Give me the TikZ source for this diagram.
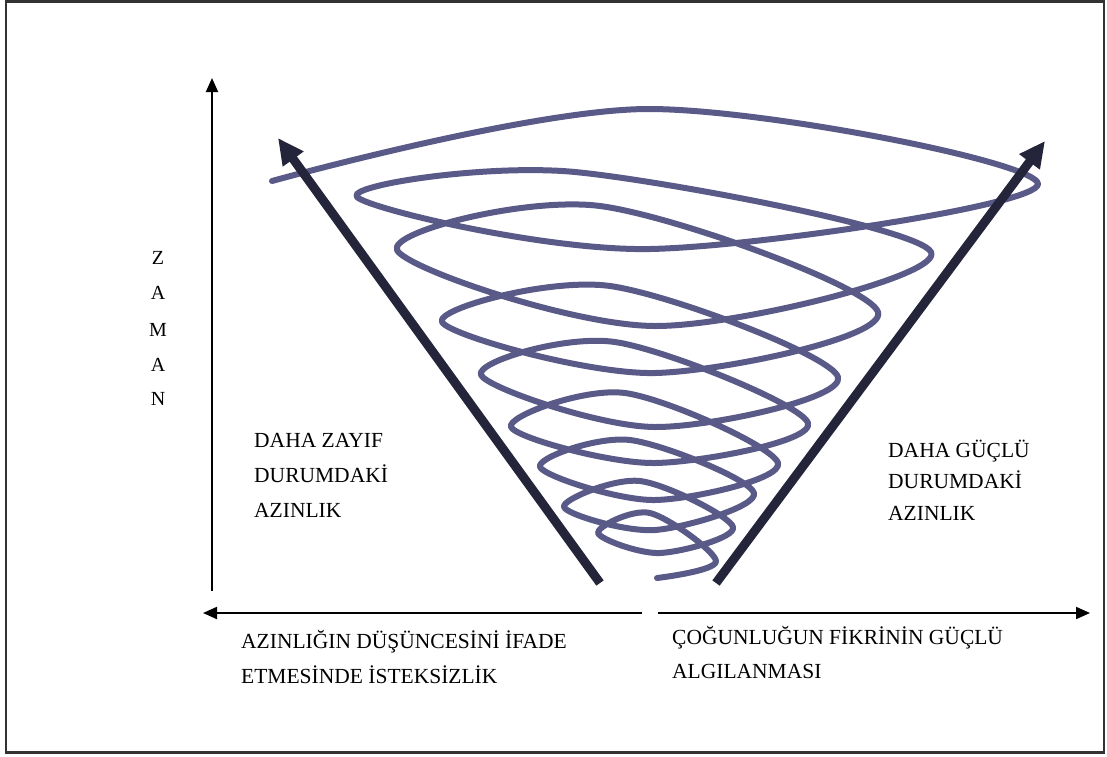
\documentclass[tikz,border=0pt]{standalone}
\usepackage{fontspec}
\setmainfont{Liberation Serif}
\usetikzlibrary{arrows.meta}
\definecolor{spiralc}{HTML}{5A5A88}
\definecolor{conec}{HTML}{24243A}
\definecolor{framec}{HTML}{333333}
\begin{document}
\begin{tikzpicture}[x=1pt,y=-1pt,
  lbl/.style={align=left, inner sep=0pt, anchor=base west},
  axisarrow/.style={line width=2pt, -{Triangle[length=14pt,width=12pt]}},
  conearrow/.style={line width=9pt, draw=conec, -{Triangle[length=26pt,width=24pt]}},
  spir/.style={line width=6pt, draw=spiralc, line cap=round, line join=round},
  zam/.style={font=\fontsize{20}{20}\selectfont, inner sep=0pt}]
\useasboundingbox (0,0) rectangle (1107,756);
\draw[line width=2.5pt, draw=framec] (6,1.5) rectangle (1104,752.5);

% spiral
\draw[spir] plot[smooth, tension=0.55] coordinates {
 (272,181) (650,109) (1038,184) (650,249) (357,197)
 (575,172) (931,252) (655,326) (397,250)
 (600,206) (878,312) (655,373) (442,322)
 (610,286) (838,377) (655,427) (481,375)
 (615,342) (808,423) (655,463) (511,427)
 (625,393) (778,463) (655,500) (540,467)
 (630,440) (754,493) (655,530) (564,507)
 (640,481) (733,527) (660,553) (598,533)
 (650,513) (716,561) (657,578)};

% cone arrows
\coordinate (lb) at (600,583);
\coordinate (lt) at (278,138);
\coordinate (rb) at (716,583);
\coordinate (rt) at (1045,141);
\draw[conearrow] (lb) -- (lt);
\draw[conearrow] (rb) -- (rt);

% axes
\coordinate (vb) at (212,591);
\coordinate (vt) at (212,78);
\coordinate (hl0) at (642,613);
\coordinate (hl1) at (203,613);
\coordinate (hr0) at (658,613);
\coordinate (hr1) at (1090,613);
\draw[axisarrow] (vb) -- (vt);
\draw[axisarrow] (hl0) -- (hl1);
\draw[axisarrow] (hr0) -- (hr1);

% ZAMAN
\node[zam] (z1) at (158,258) {Z};
\node[zam] (z2) at (158,293) {A};
\node[zam] (z3) at (158,330) {M};
\node[zam] (z4) at (158,365) {A};
\node[zam] (z5) at (158,399) {N};

% labels (base anchor = baseline of last line)
\node[lbl, font=\fontsize{21.5}{35}\selectfont] (weak) at (254,517) {DAHA ZAYIF\\DURUMDAKİ\\AZINLIK};
\node[lbl, font=\fontsize{21.5}{31.5}\selectfont] (strong) at (888,520) {DAHA GÜÇLÜ\\DURUMDAKİ\\AZINLIK};
\node[lbl, font=\fontsize{21.5}{35}\selectfont] (reluct) at (241,683) {AZINLIĞIN DÜŞÜNCESİNİ İFADE\\ETMESİNDE İSTEKSİZLİK};
\node[lbl, font=\fontsize{21.5}{34}\selectfont] (major) at (672,678) {ÇOĞUNLUĞUN FİKRİNİN GÜÇLÜ\\ALGILANMASI};
\end{tikzpicture}
\end{document}
